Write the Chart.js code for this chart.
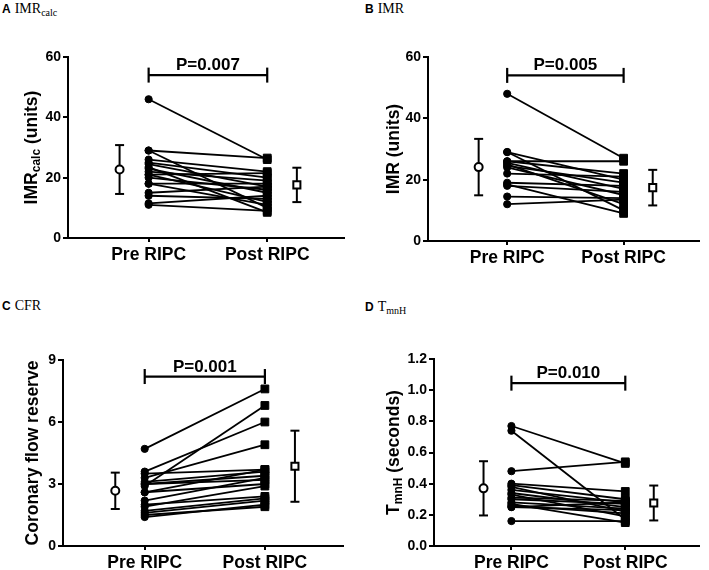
<!DOCTYPE html>
<html>
<head>
<meta charset="utf-8">
<script src="https://cdn.jsdelivr.net/npm/chart.js@4"></script>
<style>
  body { margin: 0; background: #fff; width: 709px; height: 570px; position: relative; overflow: hidden; }
  canvas { position: absolute; }
  .hd { position: absolute; font: 14px "Liberation Serif", "Times New Roman", serif; color: #000; white-space: nowrap; }
  .hd b { font: bold 12px "Liberation Sans", Arial, sans-serif; margin-right: 4px; }
  .hd sub { font-size: 10px; vertical-align: -3px; line-height: 0; }
</style>
</head>
<body>
<div class="hd" style="left:2px;top:1px"><b>A</b>IMR<sub>calc</sub></div>
<div class="hd" style="left:365px;top:1px"><b>B</b>IMR</div>
<div class="hd" style="left:2px;top:298px"><b>C</b>CFR</div>
<div class="hd" style="left:365px;top:299px"><b>D</b>T<sub>mnH</sub></div>
<canvas id="cA" width="354" height="280" style="left:0;top:0"></canvas>
<canvas id="cB" width="354" height="280" style="left:355px;top:0"></canvas>
<canvas id="cC" width="354" height="290" style="left:0;top:280px"></canvas>
<canvas id="cD" width="354" height="290" style="left:355px;top:280px"></canvas>
<script>
const groups = ['Pre RIPC', 'Post RIPC'];

// A: IMRcalc (units)
const imrCalcPre  = [46, 29, 29, 26, 25, 24.5, 23.5, 23, 22, 21, 21, 20, 18, 18, 15, 14, 11.5, 11];
const imrCalcPost = [26, 26.5, 10, 22, 20, 17, 8.5, 15, 19, 21.5, 12, 16, 18, 11, 17, 13, 14, 9];
const imrCalcMean = [22.7, 17.6];
const imrCalcSd   = [8.1, 5.7];

// B: IMR (units)
const imrPre  = [48, 29, 29, 26, 26, 25.5, 25, 24.5, 24, 22, 19, 18.5, 18, 14.5, 12];
const imrPost = [27, 20, 10, 26, 22, 17, 12, 19, 15, 21, 18, 9, 16, 14, 13.5];
const imrMean = [24.1, 17.4];
const imrSd   = [9.2, 5.8];

// C: coronary flow reserve
const cfrPre  = [4.7, 2.9, 3.6, 3.3, 3.5, 3.1, 3.0, 3.0, 2.6, 2.6, 2.2, 2.0, 1.9, 1.7, 1.6, 1.4, 1.5];
const cfrPost = [7.6, 6.8, 6.0, 4.9, 3.7, 3.6, 3.4, 3.2, 3.7, 3.0, 3.3, 2.4, 2.9, 2.3, 2.2, 2.0, 1.9];
const cfrMean = [2.67, 3.86];
const cfrSd   = [0.88, 1.72];

// D: TmnH (seconds)
const tmnPre  = [0.77, 0.74, 0.48, 0.40, 0.39, 0.38, 0.36, 0.34, 0.33, 0.31, 0.30, 0.28, 0.27, 0.26, 0.25, 0.25, 0.16];
const tmnPost = [0.53, 0.17, 0.54, 0.35, 0.30, 0.22, 0.28, 0.25, 0.19, 0.29, 0.27, 0.24, 0.15, 0.21, 0.28, 0.23, 0.16];
const tmnMean = [0.37, 0.276];
const tmnSd   = [0.174, 0.112];

const pValues = ['P=0.007', 'P=0.005', 'P=0.001', 'P=0.010'];
const bracketLevels = [54, 54, 8.2, 1.045];
const yMax  = [60, 60, 9, 1.2];
const yStep = [20, 20, 3, 0.2];

const SANS = '"Liberation Sans", Arial, sans-serif';
const meanX = [0.755, 2.25];

const labelsPlugin = {
  id: 'labels',
  afterDatasetsDraw(chart, args, o) {
    const { ctx, scales: { x, y }, chartArea } = chart;
    ctx.save();
    ctx.fillStyle = '#000';
    ctx.font = 'bold 17px ' + SANS;
    ctx.textAlign = 'center';
    ctx.textBaseline = 'alphabetic';
    ctx.fillText(o.p, x.getPixelForValue(1.5), y.getPixelForValue(o.bracket) - 5);

    // rotated y title with optional subscript parts
    const big = 'bold 17.5px ' + SANS, small = 'bold 12px ' + SANS;
    let total = 0;
    o.title.forEach(([t, sub]) => { ctx.font = sub ? small : big; total += ctx.measureText(t).width; });
    ctx.translate(o.titleX, (chartArea.top + chartArea.bottom) / 2);
    ctx.rotate(-Math.PI / 2);
    ctx.textAlign = 'left';
    ctx.textBaseline = 'middle';
    let pos = -total / 2;
    o.title.forEach(([t, sub]) => {
      ctx.font = sub ? small : big;
      ctx.fillText(t, pos, sub ? 5 : 0);
      pos += ctx.measureText(t).width;
    });
    ctx.restore();
  }
};

function makePanel(id, p) {
  const ds = [];
  p.pre.forEach((v, i) => ds.push({
    data: [{ x: 1, y: v }, { x: 2, y: p.post[i] }],
    showLine: true, borderColor: '#000', borderWidth: 1.8,
    pointStyle: ['circle', 'rect'], pointRadius: [3.6, 5.5],
    pointBackgroundColor: '#000', pointBorderColor: '#000', pointBorderWidth: 1
  }));
  [0, 1].forEach(k => {
    const m = p.mean[k], s = p.sd[k];
    ds.push({
      data: [{ x: meanX[k], y: m - s }, { x: meanX[k], y: m }, { x: meanX[k], y: m + s }],
      showLine: true, borderColor: '#000', borderWidth: 2,
      pointStyle: ['line', k ? 'rect' : 'circle', 'line'],
      pointRadius: [4.5, k ? 5 : 4, 4.5],
      pointBackgroundColor: ['#000', '#fff', '#000'],
      pointBorderColor: '#000', pointBorderWidth: 2
    });
  });
  ds.push({
    data: [{ x: 1, y: p.bracket }, { x: 2, y: p.bracket }],
    showLine: true, borderColor: '#000', borderWidth: 2.2,
    pointStyle: 'line', pointRotation: 90, pointRadius: 7.5,
    pointBorderColor: '#000', pointBorderWidth: 2.2
  });

  const cv = document.getElementById(id);
  const W = cv.width, H = cv.height;
  new Chart(cv, {
    type: 'scatter',
    data: { datasets: ds },
    plugins: [labelsPlugin],
    options: {
      responsive: false,
      animation: false,
      clip: false,
      layout: { padding: { left: 0, top: p.area[1], right: W - p.area[2], bottom: 0 } },
      plugins: {
        legend: { display: false },
        tooltip: { enabled: false },
        labels: { p: p.pText, bracket: p.bracket, title: p.title, titleX: p.titleX }
      },
      scales: {
        x: {
          type: 'linear', min: 0.32, max: 2.65,
          afterBuildTicks: s => { s.ticks = [{ value: 1 }, { value: 2 }]; },
          afterFit: s => { s.height = H - p.area[3]; },
          ticks: { callback: v => groups[v - 1], color: '#000', font: { family: SANS, size: 17.5, weight: 'bold' }, padding: 3 },
          grid: { drawOnChartArea: false, color: '#000', lineWidth: 2, tickLength: 4 },
          border: { color: '#000', width: 2 }
        },
        y: {
          min: 0, max: p.yMax,
          afterFit: s => { s.width = p.area[0]; },
          ticks: { stepSize: p.yStep, color: '#000', font: { family: SANS, size: 14, weight: 'bold' }, padding: 2,
                   callback: v => p.fmt ? v.toFixed(1) : v },
          grid: { drawOnChartArea: false, color: '#000', lineWidth: 2, tickLength: 5 },
          border: { color: '#000', width: 2 }
        }
      }
    }
  });
}

makePanel('cA', { pre: imrCalcPre, post: imrCalcPost, mean: imrCalcMean, sd: imrCalcSd,
  pText: pValues[0], bracket: bracketLevels[0], yMax: yMax[0], yStep: yStep[0],
  area: [68, 57, 345, 238], titleX: 32, title: [['IMR'], ['calc', true], [' (units)']] });
makePanel('cB', { pre: imrPre, post: imrPost, mean: imrMean, sd: imrSd,
  pText: pValues[1], bracket: bracketLevels[1], yMax: yMax[1], yStep: yStep[1],
  area: [73, 57, 348, 241], titleX: 39, title: [['IMR (units)']] });
makePanel('cC', { pre: cfrPre, post: cfrPost, mean: cfrMean, sd: cfrSd,
  pText: pValues[2], bracket: bracketLevels[2], yMax: yMax[2], yStep: yStep[2],
  area: [63, 80, 343, 266], titleX: 33, title: [['Coronary flow reserve']] });
makePanel('cD', { pre: tmnPre, post: tmnPost, mean: tmnMean, sd: tmnSd,
  pText: pValues[3], bracket: bracketLevels[3], yMax: yMax[3], yStep: yStep[3], fmt: true,
  area: [79, 79, 350, 266], titleX: 39, title: [['T'], ['mnH', true], [' (seconds)']] });
</script>
</body>
</html>
